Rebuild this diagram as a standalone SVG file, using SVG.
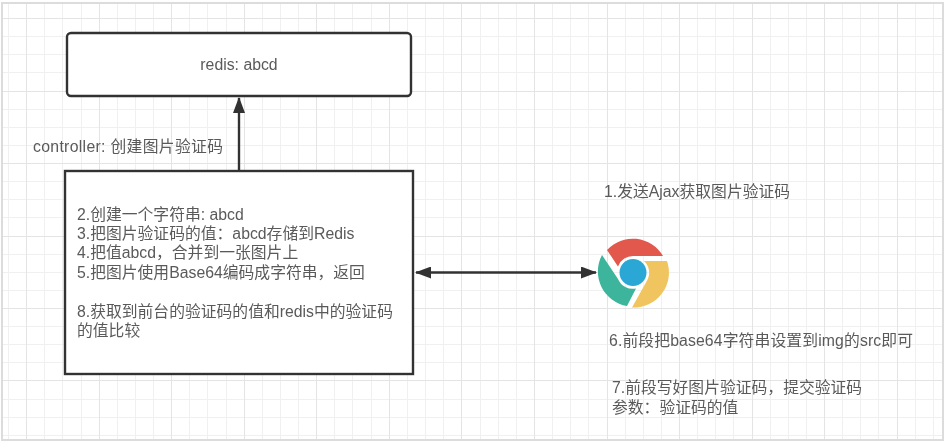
<svg xmlns="http://www.w3.org/2000/svg" width="946" height="442" viewBox="0 0 946 442">
<style>
text{font-family:"Liberation Sans","Noto Sans CJK SC",sans-serif;font-size:15.8px;fill:#5a5a5a}
.box{fill:#fff;stroke:#333;stroke-width:2.4}
.conn{fill:none;stroke:#333;stroke-width:2.4}
.minor{stroke:#f0f0f0;stroke-width:1;fill:none}
.major{stroke:#e4e4e4;stroke-width:1;fill:none}
</style>
<defs>
<marker id="ah" markerWidth="16" markerHeight="12" refX="15" refY="6" orient="auto-start-reverse" markerUnits="userSpaceOnUse"><path d="M0 0L16 6L0 12Z" fill="#333"/></marker>
<filter id="soft" x="-5%" y="-5%" width="110%" height="110%"><feGaussianBlur stdDeviation="0.35"/></filter>
</defs>
<rect width="946" height="442" fill="#fff"/>
<g id="grid">
<path class="minor" d="M8.500 3V440M44.500 3V440M62.500 3V440M81.500 3V440M117.500 3V440M135.500 3V440M153.500 3V440M189.500 3V440M207.500 3V440M226.500 3V440M262.500 3V440M280.500 3V440M298.500 3V440M334.500 3V440M352.500 3V440M371.500 3V440M407.500 3V440M425.500 3V440M443.500 3V440M480.500 3V440M498.500 3V440M516.500 3V440M552.500 3V440M570.500 3V440M588.500 3V440M625.500 3V440M643.500 3V440M661.500 3V440M697.500 3V440M715.500 3V440M733.500 3V440M770.500 3V440M788.500 3V440M806.500 3V440M842.500 3V440M860.500 3V440M878.500 3V440M915.500 3V440M933.500 3V440M3 36.500H943M3 54.500H943M3 72.500H943M3 109.500H943M3 127.500H943M3 145.500H943M3 181.500H943M3 199.500H943M3 217.500H943M3 254.500H943M3 272.500H943M3 290.500H943M3 326.500H943M3 344.500H943M3 362.500H943M3 399.500H943M3 417.500H943M3 435.500H943"/>
<path class="major" d="M26.500 3V440M99.500 3V440M171.500 3V440M244.500 3V440M316.500 3V440M389.500 3V440M461.500 3V440M534.500 3V440M607.500 3V440M679.500 3V440M752.500 3V440M824.500 3V440M897.500 3V440M3 18.500H943M3 91.500H943M3 163.500H943M3 236.500H943M3 308.500H943M3 380.500H943"/>
<rect x="2" y="3" width="941" height="437" fill="none" stroke="#dcdcdc" stroke-width="2"/>
</g>
<g filter="url(#soft)">
<g id="connectors">
<path class="conn" d="M239 171V98" marker-end="url(#ah)"/>
<path class="conn" d="M416 272.500H596" marker-start="url(#ah)" marker-end="url(#ah)"/>
</g>
<g id="redis">
<rect class="box" x="67" y="33" width="344" height="63" rx="4"/>
<text x="239" y="70" text-anchor="middle">redis: abcd</text>
</g>
<g id="controller-label">
<text x="33" y="152" textLength="190">controller: 创建图片验证码</text>
</g>
<g id="controller">
<rect class="box" x="65" y="171" width="348" height="203"/>
<text><tspan x="77" y="220">2.创建一个字符串: abcd</tspan><tspan x="77" y="239">3.把图片验证码的值：abcd存储到Redis</tspan><tspan x="77" y="258">4.把值abcd，合并到一张图片上</tspan><tspan x="77" y="278">5.把图片使用Base64编码成字符串，返回</tspan><tspan x="77" y="317">8.获取到前台的验证码的值和redis中的验证码</tspan><tspan x="77" y="336">的值比较</tspan></text>
</g>
<g id="browser">
<path d="M607 250A35 35 0 0 1 663 256H634A16 16 0 0 0 618 266.500Z" fill="#e3584d"/>
<path d="M602 255L618 279A16 16 0 0 0 636 288.500L627 306A35 35 0 0 1 602 255Z" fill="#3eb49c"/>
<path d="M644 261H667A35 35 0 0 1 632 307.500L646.500 281.500A16 16 0 0 0 644 261Z" fill="#f0c55f"/>
<circle cx="633" cy="272.500" r="13.500" fill="#29a7d5"/>
</g>
<g id="step1"><text x="604" y="197">1.发送Ajax获取图片验证码</text></g>
<g id="step6"><text x="609" y="346" textLength="304">6.前段把base64字符串设置到img的src即可</text></g>
<g id="step7">
<text><tspan x="612" y="393">7.前段写好图片验证码，提交验证码</tspan><tspan x="612" y="413">参数：验证码的值</tspan></text>
</g>
</g>
</svg>
